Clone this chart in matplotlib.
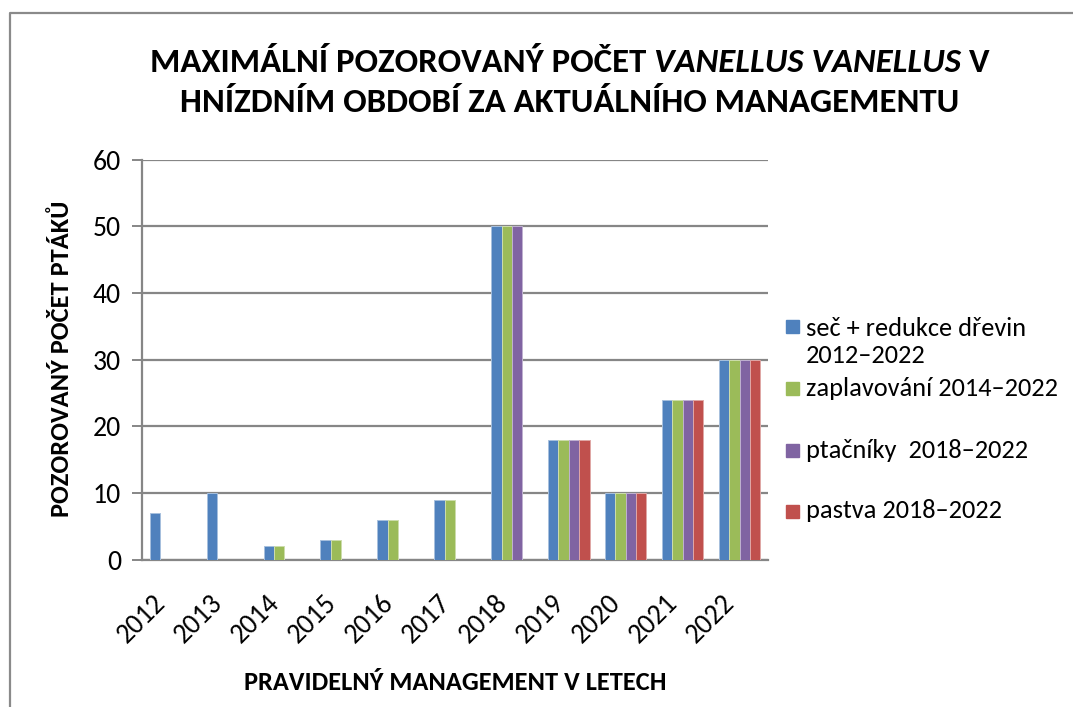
import numpy as np
import matplotlib
matplotlib.use("Agg")
import matplotlib.pyplot as plt
from matplotlib import font_manager
from matplotlib.patches import Rectangle
from matplotlib.lines import Line2D
from matplotlib.transforms import ScaledTranslation

# Daten
roky = ["2012", "2013", "2014", "2015", "2016", "2017", "2018", "2019", "2020", "2021", "2022"]
sec_redukce = [7, 10, 2, 3, 6, 9, 50, 18, 10, 24, 30]
zaplavovani = [np.nan, np.nan, 2, 3, 6, 9, 50, 18, 10, 24, 30]
ptacniky = [np.nan] * 6 + [50, 18, 10, 24, 30]
pastva = [np.nan] * 7 + [18, 10, 24, 30]

serie = [sec_redukce, zaplavovani, ptacniky, pastva]
popisky = ["seč + redukce dřevin\n2012–2022", "zaplavování 2014–2022",
           "ptačníky  2018–2022", "pastva 2018–2022"]
barvy = ["#4F81BD", "#9BBB59", "#8064A2", "#C0504D"]
okraje = ["#A7C0DE", "#CDDDAC", "#BFB1D0", "#DFA7A6"]

titulek_1 = ["MAXIMÁLNÍ POZOROVANÝ POČET", "VANELLUS VANELLUS", "V"]
titulek_2 = "HNÍZDNÍM OBDOBÍ ZA AKTUÁLNÍHO MANAGEMENTU"
popis_y = "POZOROVANÝ POČET PTÁKŮ"
popis_x = "PRAVIDELNÝ MANAGEMENT V LETECH"


def vyber_font(jmena):
    for jmeno in jmena:
        try:
            font_manager.findfont(jmeno, fallback_to_default=False)
            return jmeno
        except ValueError:
            continue
    return "DejaVu Sans"


FONT = vyber_font(["Carlito", "Lato", "Open Sans"])
plt.rcParams["font.family"] = [FONT, "DejaVu Sans"]

W, H = 1073, 707
fig = plt.figure(figsize=(W / 100, H / 100), dpi=100)
renderer = fig.canvas.get_renderer()


def px(x, y):
    # Pixel (links oben) -> Figurkoordinaten
    return x / W, 1 - y / H


# Rahmen des Diagramms
fig.add_artist(Line2D([10 / W, 10 / W, 1.0], [0.0, 1 - 13 / H, 1 - 13 / H],
                      transform=fig.transFigure, color="#8A8A8A", linewidth=1.6))

ax = fig.add_axes([142 / W, 1 - 559.5 / H, (768 - 142) / W, (559.5 - 159.5) / H])

x = np.arange(len(roky))
sirka = 1 / 5.5
for i, (hodnoty, barva, okraj) in enumerate(zip(serie, barvy, okraje)):
    ax.bar(x + (i - 1.5) * sirka, np.array(hodnoty, dtype=float), width=sirka,
           color=barva, edgecolor=okraj, linewidth=0.7, zorder=3)

ax.set_xlim(-0.5, len(roky) - 0.5)
ax.set_ylim(0, 60)
ax.set_yticks(np.arange(0, 61, 10))
ax.set_xticks(x)
ax.set_xticklabels(roky, rotation=45, ha="right", va="top", fontsize=20)
for lbl in ax.get_xticklabels():
    lbl.set_transform(lbl.get_transform() + ScaledTranslation(0.11, 0, fig.dpi_scale_trans))
ax.tick_params(axis="x", length=0, pad=22)
ax.tick_params(axis="y", length=7, width=1.4, color="#868686", pad=8, labelsize=20)

ax.grid(axis="y", color="#868686", linewidth=1.6, zorder=0)
for strana in ["top", "right"]:
    ax.spines[strana].set_visible(False)
for strana in ["left", "bottom"]:
    ax.spines[strana].set_color("#868686")
    ax.spines[strana].set_linewidth(1.6)

# Achsenbeschriftungen
fig.text(*px(62, 359), popis_y, rotation=90, ha="center", va="center",
         fontsize=19, fontweight="bold")
fig.text(*px(455, 683), popis_x, ha="center", va="center",
         fontsize=19, fontweight="bold")

# Titel, erste Zeile mit kursivem Artnamen
VELIKOST_TITULU = 25
styly = ["normal", "italic", "normal"]
kusy = []
for cast, styl in zip(titulek_1, styly):
    t = fig.text(0, px(0, 63)[1], cast, ha="left", va="center", fontsize=VELIKOST_TITULU,
                 fontweight="bold", fontstyle=styl)
    kusy.append(t)
t1 = fig.text(0, 0, "A A", fontsize=VELIKOST_TITULU, fontweight="bold")
t2 = fig.text(0, 0, "AA", fontsize=VELIKOST_TITULU, fontweight="bold")
mezera_w = t1.get_window_extent(renderer).width - t2.get_window_extent(renderer).width
t1.remove()
t2.remove()
sirky = [t.get_window_extent(renderer).width for t in kusy]
celkem = sum(sirky) + mezera_w * (len(kusy) - 1)
poz = 570 - celkem / 2
for t, w in zip(kusy, sirky):
    t.set_x(poz / W)
    poz += w + mezera_w
fig.text(*px(570, 103), titulek_2, ha="center", va="center",
         fontsize=VELIKOST_TITULU, fontweight="bold")

# Legende
legenda_y = [326, 388, 450, 511]
for popisek, barva, yy in zip(popisky, barvy, legenda_y):
    fig.add_artist(Rectangle(px(786, yy + 6.5), 13 / W, 13 / H,
                             transform=fig.transFigure, color=barva))
    radky = popisek.count("\n")
    fig.text(*px(806, yy + radky * 16), popisek, ha="left", va="center",
             fontsize=19, linespacing=1.2)

fig.savefig("out.png", dpi=100, facecolor="white")
